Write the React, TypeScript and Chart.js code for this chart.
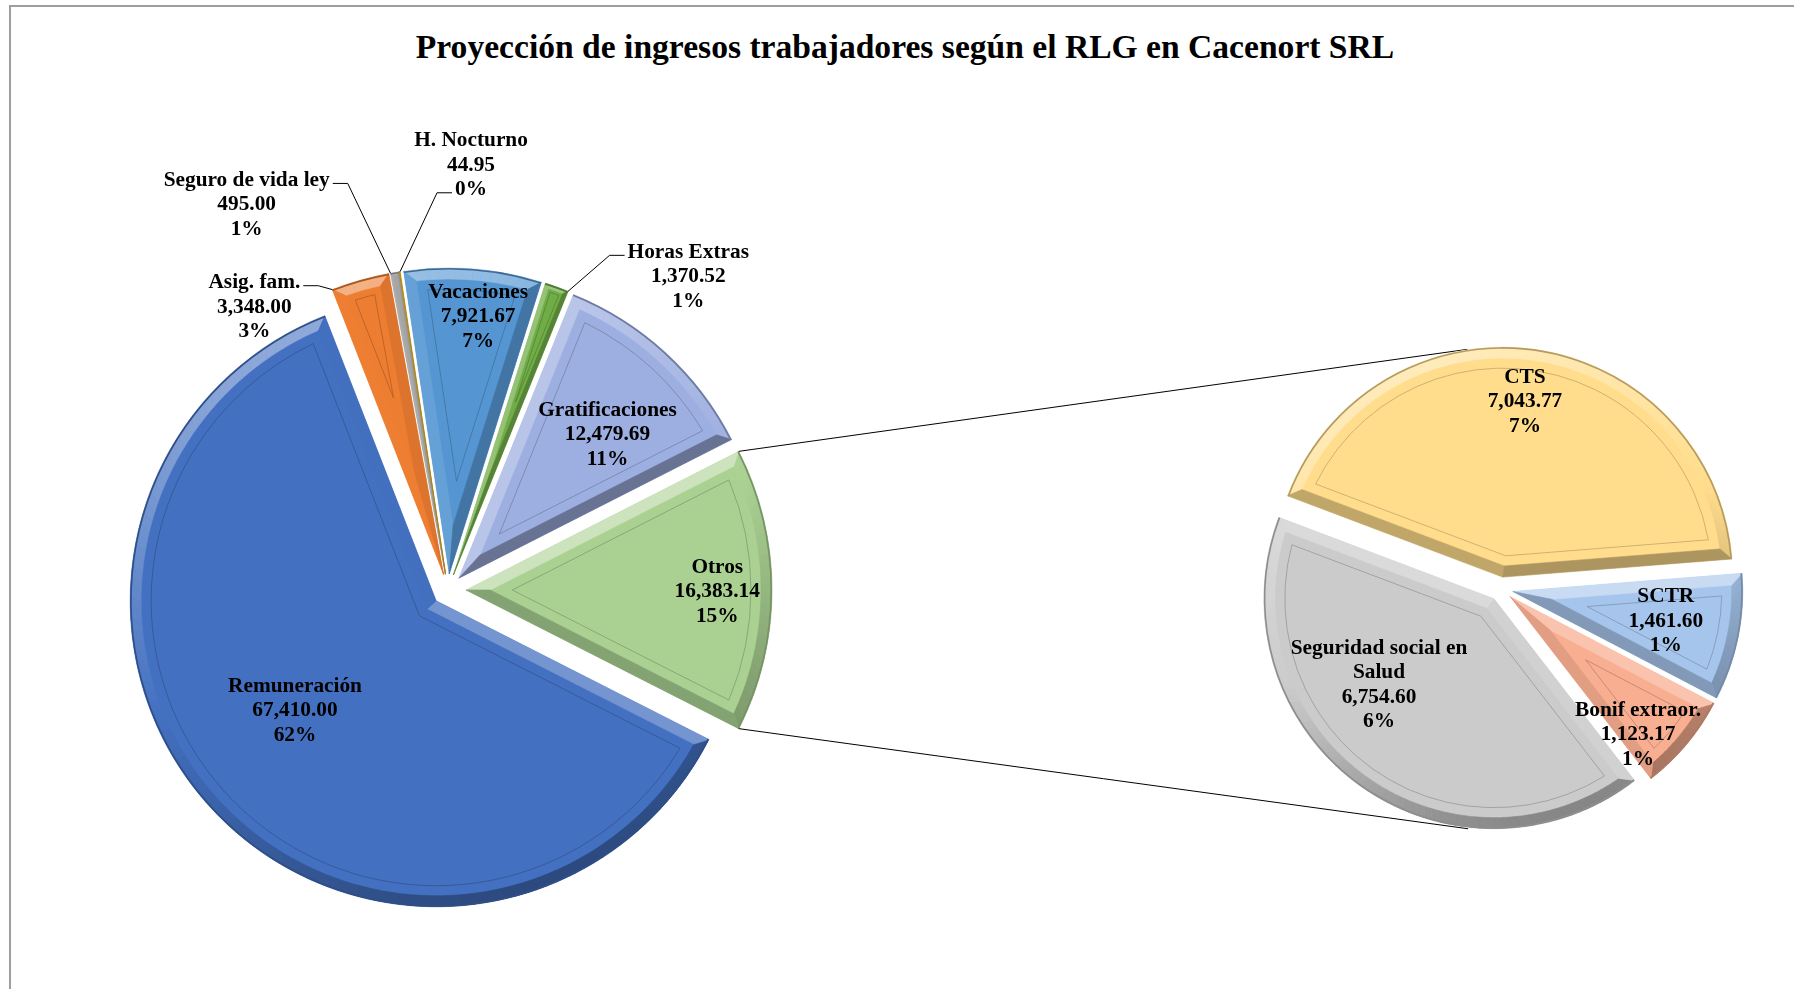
import React, { useEffect, useRef } from 'react';
import { Chart, registerables } from 'chart.js';

Chart.register(...registerables);

// ---------------- data ----------------
const TITLE = 'Proyección de ingresos trabajadores según el RLG en Cacenort SRL';

const mainLabels = ['Remuneración', 'Asig. fam.', 'Seguro de vida ley', 'H. Nocturno', 'Vacaciones', 'Horas Extras', 'Gratificaciones', 'Otros'];
const mainValues = [67410.0, 3348.0, 495.0, 44.95, 7921.67, 1370.52, 12479.69, 16383.14];
const mainPercents = [62, 3, 1, 0, 7, 1, 11, 15];
const mainColors = ['#4370C0', '#ED7D31', '#A5A5A5', '#FFC000', '#5596D2', '#70AD47', '#9DAEE0', '#AAD192'];

const subLabels = ['CTS', 'SCTR', 'Bonif extraor.', 'Seguridad social en Salud'];
const subValues = [7043.77, 1461.6, 1123.17, 6754.6];
const subPercents = [7, 1, 1, 6];
const subColors = ['#FFDD8C', '#A6C5EC', '#F8AE90', '#CBCBCB'];

// ---------------- layout ----------------
const W = 1794;
const H = 989;
const LABEL_FONT = "bold 21.33px 'Liberation Serif', 'Times New Roman', serif";
const LINE_H = 24.5;

type Place = { angle: number; r: number; leader?: { line: 'first' | 'last'; side: 'left' | 'right' } };

const mainPlaces: Place[] = [
  { angle: 231.7, r: 0.637 },
  { angle: 325.6, r: 1.12, leader: { line: 'first', side: 'right' } },
  { angle: 332.4, r: 1.42, leader: { line: 'first', side: 'right' } },
  { angle: 3.1, r: 1.39, leader: { line: 'last', side: 'left' } },
  { angle: 6.3, r: 0.898 },
  { angle: 37.5, r: 1.29, leader: { line: 'first', side: 'left' } },
  { angle: 45.8, r: 0.727 },
  { angle: 90.4, r: 0.88 },
];
const subPlaces: Place[] = [
  { angle: 7.3, r: 0.82 },
  { angle: 101, r: 0.73 },
  { angle: 136.8, r: 0.87 },
  { angle: 231.8, r: 0.675 },
];

const mainShifts = [16, 16, 16, 16, 16, 16, 16, 18];
const subShifts = [12, 12, 12, 12];

// ---------------- helpers ----------------
const TAU = Math.PI * 2;
const fromNorth = (deg: number) => ((deg - 90) * Math.PI) / 180;

function fmt(v: number) {
  return v.toLocaleString('en-US', { minimumFractionDigits: 2, maximumFractionDigits: 2 });
}

function hexToRgb(h: string) {
  const n = parseInt(h.slice(1), 16);
  return [(n >> 16) & 255, (n >> 8) & 255, n & 255];
}
function mix(h: string, t: string, k: number) {
  const a = hexToRgb(h);
  const b = hexToRgb(t);
  return `rgb(${a.map((v, i) => Math.round(v + (b[i] - v) * k)).join(',')})`;
}

function wrapText(ctx: CanvasRenderingContext2D, text: string, maxW: number) {
  const words = text.split(' ');
  const lines: string[] = [];
  let cur = '';
  for (const w of words) {
    const t = cur ? cur + ' ' + w : w;
    if (cur && ctx.measureText(t).width > maxW) {
      lines.push(cur);
      cur = w;
    } else cur = t;
  }
  if (cur) lines.push(cur);
  return lines;
}

function clampAngle(phi: number, a0: number, a1: number) {
  const n = a0 + ((((phi - a0) % TAU) + TAU) % TAU);
  if (n <= a1) return n;
  const d1 = n - a1;
  const d0 = a0 + TAU - n;
  return d1 < d0 ? a1 : a0;
}

const LIGHT = (() => {
  const x = -0.38, y = -0.93;
  const l = Math.hypot(x, y);
  return [x / l, y / l];
})();

function shadeFor(base: string, nx: number, ny: number) {
  const f = nx * LIGHT[0] + ny * LIGHT[1];
  return f >= 0 ? mix(base, '#FFFFFF', 0.4 * f) : mix(base, '#000000', 0.34 * -f);
}

function fillPoly(ctx: CanvasRenderingContext2D, pts: number[][], color: string) {
  ctx.beginPath();
  ctx.moveTo(pts[0][0], pts[0][1]);
  for (let i = 1; i < pts.length; i++) ctx.lineTo(pts[i][0], pts[i][1]);
  ctx.closePath();
  ctx.fillStyle = color;
  ctx.strokeStyle = color;
  ctx.lineWidth = 0.6;
  ctx.fill();
  ctx.stroke();
}

function drawBevel(
  ctx: CanvasRenderingContext2D,
  vx: number,
  vy: number,
  R: number,
  a0: number,
  a1: number,
  base: string,
  band: number,
  inset: number
) {
  const theta = a1 - a0;
  if (theta <= 0) return;
  const halfChord = R * Math.sin(Math.min(theta, Math.PI) / 2);
  const b = Math.min(band, halfChord * 0.35);
  const pt = (a: number, r: number) => [vx + Math.cos(a) * r, vy + Math.sin(a) * r];
  if (b < 1.2) {
    ctx.beginPath();
    ctx.moveTo(vx, vy);
    ctx.arc(vx, vy, R, a0, a1);
    ctx.closePath();
    ctx.strokeStyle = mix(base, '#000000', 0.35);
    ctx.lineWidth = 0.8;
    ctx.stroke();
    return;
  }
  const mid = (a0 + a1) / 2;
  const delta = Math.asin(b / (R - b));
  const t = b / Math.sin(theta / 2);
  const P = pt(mid, t);
  const inA0 = a0 + delta;
  const inA1 = a1 - delta;
  const N = Math.max(2, Math.ceil(theta / (Math.PI / 90)));
  for (let i = 0; i < N; i++) {
    const to0 = a0 + (theta * i) / N;
    const to1 = a0 + (theta * (i + 1)) / N;
    const ti0 = inA0 + ((inA1 - inA0) * i) / N;
    const ti1 = inA0 + ((inA1 - inA0) * (i + 1)) / N;
    const m = (to0 + to1) / 2;
    const c = shadeFor(base, Math.cos(m), Math.sin(m));
    ctx.beginPath();
    ctx.moveTo(...(pt(to0, R) as [number, number]));
    ctx.arc(vx, vy, R, to0, to1);
    ctx.lineTo(...(pt(ti1, R - b) as [number, number]));
    ctx.arc(vx, vy, R - b, ti1, ti0, true);
    ctx.closePath();
    ctx.fillStyle = c;
    ctx.strokeStyle = c;
    ctx.lineWidth = 0.6;
    ctx.fill();
    ctx.stroke();
  }
  // radial edges
  const n0a = a0 - Math.PI / 2;
  fillPoly(ctx, [[vx, vy], pt(a0, R), pt(inA0, R - b), P], shadeFor(base, Math.cos(n0a), Math.sin(n0a)));
  const n1a = a1 + Math.PI / 2;
  fillPoly(ctx, [[vx, vy], pt(a1, R), pt(inA1, R - b), P], shadeFor(base, Math.cos(n1a), Math.sin(n1a)));
  // outer dark rim
  ctx.beginPath();
  ctx.arc(vx, vy, R - 0.8, a0, a1);
  ctx.strokeStyle = mix(base, '#000000', 0.3);
  ctx.lineWidth = 1.6;
  ctx.stroke();
  // inner thin line
  const d = Math.min(inset, halfChord * 0.6);
  if (d > b + 3) {
    const dd = Math.asin(d / (R - d));
    const td = d / Math.sin(theta / 2);
    if (theta - 2 * dd > 0 && td < R - d) {
      const Q = pt(mid, td);
      ctx.beginPath();
      ctx.moveTo(Q[0], Q[1]);
      ctx.arc(vx, vy, R - d, a0 + dd, a1 - dd);
      ctx.closePath();
      ctx.strokeStyle = mix(base, '#000000', 0.28);
      ctx.globalAlpha = 0.7;
      ctx.lineWidth = 1;
      ctx.stroke();
      ctx.globalAlpha = 1;
    }
  }
}

function makeExplodePlugin(shifts: number[], band: number, inset: number) {
  return {
    id: 'explodeBevel',
    beforeDatasetDraw(chart: any, args: any) {
      const meta = chart.getDatasetMeta(args.index);
      const ctx: CanvasRenderingContext2D = chart.ctx;
      meta.data.forEach((arc: any, i: number) => {
        const mid = (arc.startAngle + arc.endAngle) / 2;
        const s = shifts[i] || 0;
        ctx.save();
        ctx.translate(Math.cos(mid) * s, Math.sin(mid) * s);
        arc.draw(ctx);
        drawBevel(ctx, arc.x, arc.y, arc.outerRadius, arc.startAngle, arc.endAngle, arc.options.backgroundColor, band, inset);
        ctx.restore();
      });
      return false;
    },
  };
}

function makeLabelPlugin(names: string[], values: number[], percents: number[], places: Place[], shifts: number[], wrapW: number) {
  return {
    id: 'sliceLabels',
    afterDatasetsDraw(chart: any) {
      const ctx: CanvasRenderingContext2D = chart.ctx;
      const meta = chart.getDatasetMeta(0);
      ctx.save();
      ctx.font = LABEL_FONT;
      ctx.fillStyle = '#000';
      ctx.textAlign = 'center';
      ctx.textBaseline = 'middle';
      meta.data.forEach((arc: any, i: number) => {
        const p = places[i];
        const lines = [...wrapText(ctx, names[i], wrapW), fmt(values[i]), `${percents[i]}%`];
        const a = fromNorth(p.angle);
        const cx = arc.x + Math.cos(a) * p.r * arc.outerRadius;
        const cy = arc.y + Math.sin(a) * p.r * arc.outerRadius;
        const top = cy - ((lines.length - 1) * LINE_H) / 2;
        lines.forEach((ln, k) => ctx.fillText(ln, cx, top + k * LINE_H));
        if (p.leader) {
          const k = p.leader.line === 'first' ? 0 : lines.length - 1;
          const w = ctx.measureText(lines[k]).width;
          const dir = p.leader.side === 'left' ? -1 : 1;
          const sx = cx + dir * (w / 2 + 3);
          const sy = top + k * LINE_H + 3;
          const ex = sx + dir * 15;
          const mid = (arc.startAngle + arc.endAngle) / 2;
          const s = shifts[i] || 0;
          const vx = arc.x + Math.cos(mid) * s;
          const vy = arc.y + Math.sin(mid) * s;
          const phi = clampAngle(Math.atan2(sy - vy, ex - vx), arc.startAngle, arc.endAngle);
          const tx = vx + Math.cos(phi) * arc.outerRadius;
          const ty = vy + Math.sin(phi) * arc.outerRadius;
          ctx.beginPath();
          ctx.moveTo(sx, sy);
          ctx.lineTo(ex, sy);
          ctx.lineTo(tx, ty);
          ctx.lineWidth = 1;
          ctx.strokeStyle = '#000';
          ctx.stroke();
        }
      });
      ctx.restore();
    },
  };
}

function tangentPoint(px: number, py: number, cx: number, cy: number, r: number, upper: boolean) {
  const dx = px - cx;
  const dy = py - cy;
  const D = Math.hypot(dx, dy);
  const phi = Math.atan2(dy, dx);
  const al = Math.acos(Math.min(1, r / D));
  const c1 = [cx + r * Math.cos(phi + al), cy + r * Math.sin(phi + al)];
  const c2 = [cx + r * Math.cos(phi - al), cy + r * Math.sin(phi - al)];
  return upper ? (c1[1] < c2[1] ? c1 : c2) : c1[1] > c2[1] ? c1 : c2;
}

function makeConnectorPlugin(getMain: () => any) {
  return {
    id: 'connectors',
    beforeDatasetsDraw(chart: any) {
      const main = getMain();
      if (!main) return;
      const mm = main.getDatasetMeta(0);
      const idx = mm.data.length - 1;
      const arc = mm.data[idx];
      const s = mainShifts[idx];
      const mid = (arc.startAngle + arc.endAngle) / 2;
      const vx = arc.x + Math.cos(mid) * s;
      const vy = arc.y + Math.sin(mid) * s;
      const R = arc.outerRadius;
      const p0 = [vx + Math.cos(arc.startAngle) * R, vy + Math.sin(arc.startAngle) * R];
      const p1 = [vx + Math.cos(arc.endAngle) * R, vy + Math.sin(arc.endAngle) * R];
      const sub = chart.getDatasetMeta(0).data[0];
      const r = sub.outerRadius + subShifts[0];
      const t0 = tangentPoint(p0[0], p0[1], sub.x, sub.y, r, true);
      const t1 = tangentPoint(p1[0], p1[1], sub.x, sub.y, r, false);
      const ctx: CanvasRenderingContext2D = chart.ctx;
      ctx.save();
      ctx.strokeStyle = '#000';
      ctx.lineWidth = 1;
      ctx.beginPath();
      ctx.moveTo(p0[0], p0[1]);
      ctx.lineTo(t0[0], t0[1]);
      ctx.moveTo(p1[0], p1[1]);
      ctx.lineTo(t1[0], t1[1]);
      ctx.stroke();
      ctx.restore();
    },
  };
}

export default function App() {
  const mainRef = useRef<HTMLCanvasElement>(null);
  const subRef = useRef<HTMLCanvasElement>(null);

  useEffect(() => {
    document.body.style.margin = '0';
    const mainTotal = mainValues.reduce((a, b) => a + b, 0);
    const otros = mainValues[mainValues.length - 1];
    const mainRotation = 90 + ((otros / mainTotal) * 360) / 2;

    let mainChart: any = null;
    mainChart = new Chart(mainRef.current as HTMLCanvasElement, {
      type: 'pie',
      data: {
        labels: mainLabels,
        datasets: [{ data: mainValues, backgroundColor: mainColors, borderWidth: 0 }],
      },
      options: {
        responsive: false,
        animation: false,
        events: [],
        rotation: mainRotation,
        radius: 306,
        layout: { padding: { left: 118, right: 1016, top: 260, bottom: 69 } },
        plugins: { legend: { display: false }, tooltip: { enabled: false }, title: { display: false } },
      } as any,
      plugins: [makeExplodePlugin(mainShifts, 11, 21), makeLabelPlugin(mainLabels, mainValues, mainPercents, mainPlaces, mainShifts, 200)],
    });

    const subChart = new Chart(subRef.current as HTMLCanvasElement, {
      type: 'pie',
      data: {
        labels: subLabels,
        datasets: [{ data: subValues, backgroundColor: subColors, borderWidth: 0 }],
      },
      options: {
        responsive: false,
        animation: false,
        events: [],
        rotation: 290.7,
        radius: 230,
        layout: { padding: { left: 1241, right: 33, top: 329, bottom: 140 } },
        plugins: { legend: { display: false }, tooltip: { enabled: false }, title: { display: false } },
      } as any,
      plugins: [
        makeConnectorPlugin(() => mainChart),
        makeExplodePlugin(subShifts, 11, 21),
        makeLabelPlugin(subLabels, subValues, subPercents, subPlaces, subShifts, 200),
      ],
    });

    return () => {
      subChart.destroy();
      mainChart.destroy();
    };
  }, []);

  return (
    <div style={{ position: 'relative', width: W, height: H, overflow: 'hidden', background: '#fff' }}>
      <div
        style={{
          position: 'absolute',
          left: 9,
          top: 5,
          width: 3000,
          height: 3000,
          borderTop: '2px solid #9e9e9e',
          borderLeft: '2px solid #9e9e9e',
        }}
      />
      <div
        style={{
          position: 'absolute',
          left: 0,
          top: 28,
          width: 1810,
          textAlign: 'center',
          fontFamily: "'Liberation Serif', 'Times New Roman', serif",
          fontWeight: 'bold',
          fontSize: 33.6,
          lineHeight: '38px',
          color: '#000',
          whiteSpace: 'nowrap',
        }}
      >
        {TITLE}
      </div>
      <canvas ref={mainRef} width={W} height={H} style={{ position: 'absolute', left: 0, top: 0 }} />
      <canvas ref={subRef} width={W} height={H} style={{ position: 'absolute', left: 0, top: 0 }} />
    </div>
  );
}
